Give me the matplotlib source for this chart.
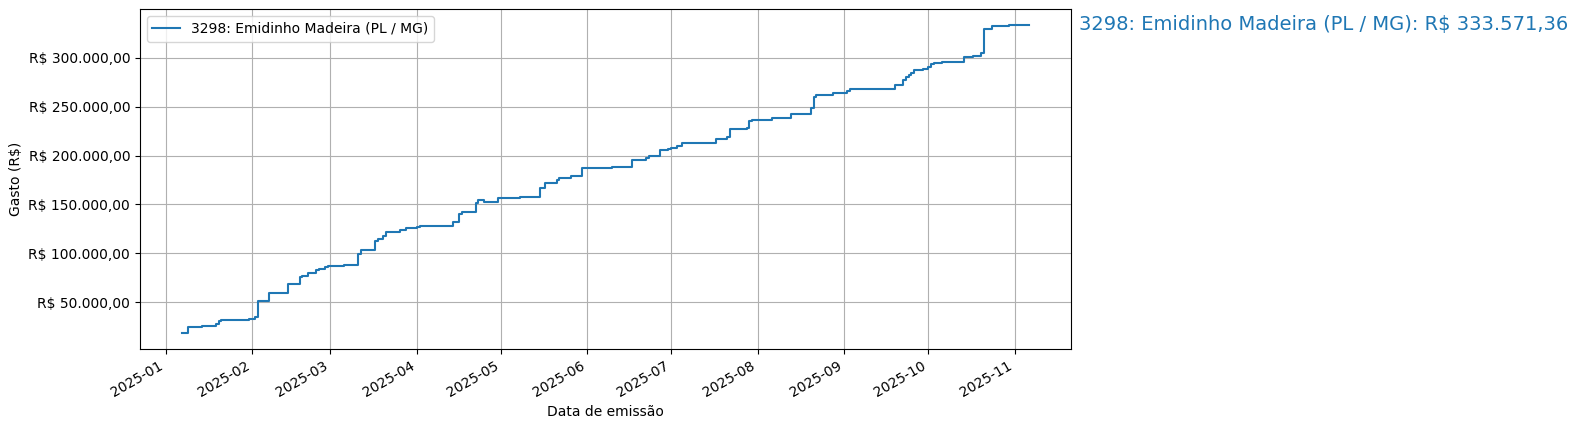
import numpy as np
import pandas as pd
import matplotlib
matplotlib.use("Agg")
import matplotlib.pyplot as plt
import matplotlib.dates as mdates
from matplotlib.ticker import FuncFormatter

deputado = "3298: Emidinho Madeira (PL / MG)"

# dias desde 2025-01-01 e gasto acumulado
dias = [6, 8, 13, 18, 19, 20, 30, 32, 33, 37, 44, 48, 49, 51, 54, 55, 57, 58,
        64, 69, 70, 75, 76, 78, 79, 84, 86, 90, 91, 103, 105, 106, 111, 112,
        114, 119, 127, 134, 136, 140, 141, 145, 149, 160, 167, 172, 173, 177,
        180, 181, 183, 185, 197, 201, 202, 208, 209, 210, 217, 224, 231, 232,
        233, 239, 244, 245, 261, 264, 265, 266, 267, 268, 271, 273, 274, 275,
        278, 281, 286, 289, 292, 293, 296, 302, 309]
acumulado = [18200, 25000, 26000, 27500, 30800, 31900, 32900, 34900, 51300,
             59800, 68700, 75900, 77000, 79700, 83400, 84400, 85900, 87200,
             87900, 98800, 103300, 112100, 114900, 117600, 122300, 123400,
             125800, 127100, 128200, 131600, 140200, 141800, 151700, 154800,
             152800, 156900, 157900, 166800, 172200, 174600, 177400, 178700,
             186900, 188600, 195000, 197500, 199200, 205300, 206800, 208100,
             210100, 212900, 216600, 219400, 226800, 228500, 235000, 236100,
             238100, 242600, 248400, 260300, 261400, 264100, 265800, 267500,
             272300, 277000, 279800, 282200, 283900, 287000, 288000, 290800,
             293100, 294200, 295200, 295900, 300800, 301600, 304400, 329000,
             332100, 333571.36, 333571.36]

datas = pd.Timestamp("2025-01-01") + pd.to_timedelta(dias, unit="D")


def reais(v, pos=None):
    s = f"{v:,.2f}".replace(",", "X").replace(".", ",").replace("X", ".")
    return "R$ " + s


fig = plt.figure(figsize=(15.78, 4.3), dpi=100)
ax = fig.add_axes([0.0887, 0.189, 0.5900, 0.789])

ax.step(datas, acumulado, where="post", color="#1f77b4", label=deputado)
ax.annotate(f"{deputado}: {reais(acumulado[-1])}",
            xy=(1.0, acumulado[-1]), xycoords=ax.get_yaxis_transform(),
            xytext=(6, 0), textcoords="offset points",
            color="#1f77b4", fontsize=14, va="center", ha="left",
            annotation_clip=False)

ax.yaxis.set_major_formatter(FuncFormatter(reais))
ax.xaxis.set_major_locator(mdates.MonthLocator())
ax.xaxis.set_major_formatter(mdates.DateFormatter("%Y-%m"))
for lbl in ax.get_xticklabels():
    lbl.set_rotation(30)
    lbl.set_ha("right")

ax.set_xlabel("Data de emissão")
ax.set_ylabel("Gasto (R$)")
ax.grid(True)
ax.legend(loc="upper left")

fig.savefig("out.png", dpi=100)
